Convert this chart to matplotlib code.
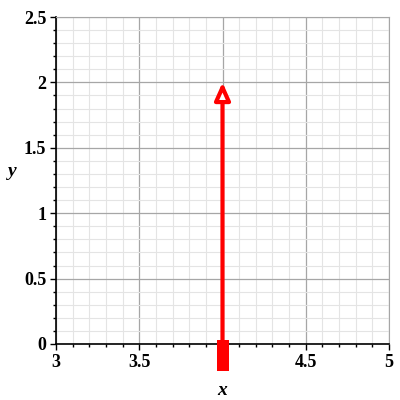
import matplotlib.pyplot as plt
from matplotlib.ticker import MultipleLocator
from matplotlib.path import Path
from matplotlib.markers import MarkerStyle

# data
x_range = [3, 5]
y_range = [0, 2.5]
arrow_tail = (4, 0)
arrow_head = (4, 2)
xticks = [3, 3.5, 4, 4.5, 5]
yticks = [0, 0.5, 1, 1.5, 2, 2.5]
xticklabels = ["3", "3.5", "4", "4.5", "5"]
yticklabels = ["0", "0.5", "1", "1.5", "2", "2.5"]

plt.rcParams['font.family'] = ['Liberation Serif', 'DejaVu Serif']

fig = plt.figure(figsize=(4, 4), dpi=100)
ax = fig.add_axes([0.14, 0.14, 0.8325, 0.8175])
ax.set_xlim(x_range)
ax.set_ylim(y_range)

ax.set_xticks(xticks)
ax.set_xticklabels(xticklabels, fontsize=13, fontweight='bold')
ax.set_yticks(yticks)
ax.set_yticklabels(yticklabels, fontsize=13, fontweight='bold')
ax.xaxis.set_minor_locator(MultipleLocator(0.1))
ax.yaxis.set_minor_locator(MultipleLocator(0.1))
ax.tick_params(which='major', length=4, width=1, direction='out')
ax.tick_params(which='minor', length=2.5, width=1, direction='out')
ax.tick_params(axis='x', which='major', pad=3)
ax.tick_params(axis='y', which='major', pad=3)

ax.grid(which='major', color='#a6a6a6', lw=0.9)
ax.grid(which='minor', color='#e4e4e4', lw=0.8)
ax.set_axisbelow(True)

for s in ['top', 'right']:
    ax.spines[s].set_color('#a6a6a6')
for s in ['left', 'bottom']:
    ax.spines[s].set_linewidth(1.2)

ax.set_xlabel('x', fontsize=14, fontweight='bold', style='italic')
ax.xaxis.set_label_coords(0.5, -0.115)
ax.set_ylabel('y', fontsize=14, fontweight='bold', style='italic', rotation=0)
ax.yaxis.set_label_coords(-0.13, 0.5)

# arrow with open head
ax.annotate('', xy=arrow_head, xytext=arrow_tail,
            arrowprops=dict(arrowstyle='-|>,head_length=1.05,head_width=0.47',
                            color='red', fc='white', lw=3, shrinkA=0, shrinkB=0),
            zorder=4)

# base block: tall rectangle hanging below the axis at the tail point
block = MarkerStyle(Path([(-6, 4), (6, 4), (6, -27), (-6, -27), (-6, 4)], closed=True))
ax.plot([arrow_tail[0]], [arrow_tail[1]], marker=block, ms=39, color='red',
        mew=0, clip_on=False, zorder=5, ls='none')

fig.savefig('out.png')
